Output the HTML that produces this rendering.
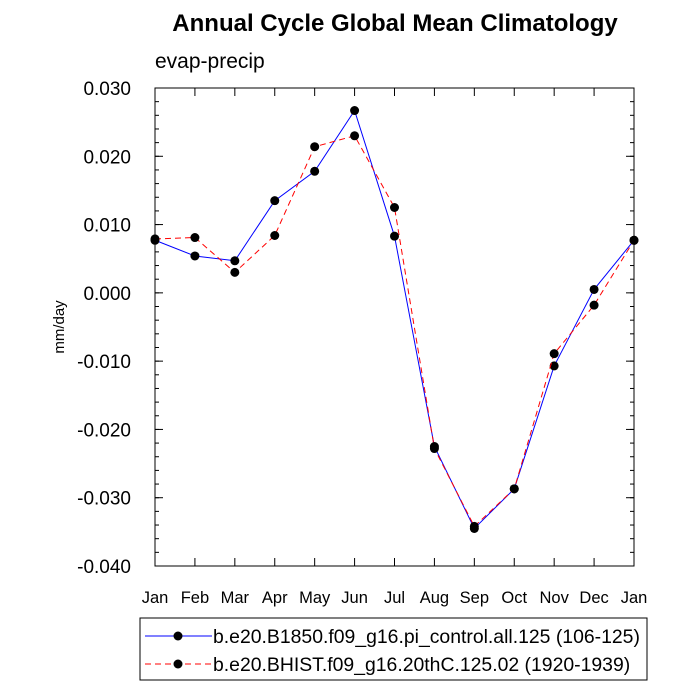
<!DOCTYPE html>
<html><head><meta charset="utf-8"><style>
html,body{margin:0;padding:0;background:#fff;}
svg{display:block;font-family:"Liberation Sans",Arial,sans-serif;}
</style></head><body>
<svg id="chart" width="700" height="700">
<text x="395" y="31" text-anchor="middle" font-size="24" font-weight="bold">Annual Cycle Global Mean Climatology</text>
<text x="155" y="68" font-size="21">evap-precip</text>
<text transform="translate(64,327) rotate(-90)" text-anchor="middle" font-size="15">mm/day</text>
<g id="axes"></g>
<g id="series"></g>
<rect x="140" y="618" width="507" height="62" fill="none" stroke="#000" stroke-width="1"/>
<g>
<line x1="145" y1="636" x2="212" y2="636" stroke="#0000ff" stroke-width="1"/>
<circle cx="178" cy="636" r="4.5" fill="#000"/>
<text x="213" y="643" font-size="19.4">b.e20.B1850.f09_g16.pi_control.all.125 (106-125)</text>
</g>
<g>
<line x1="145" y1="664" x2="212" y2="664" stroke="#ff0000" stroke-width="1" stroke-dasharray="6,4"/>
<circle cx="178" cy="664" r="4.5" fill="#000"/>
<text x="213" y="671" font-size="19.4">b.e20.BHIST.f09_g16.20thC.125.02 (1920-1939)</text>
</g>
</svg>
<script>
const months = ["Jan","Feb","Mar","Apr","May","Jun","Jul","Aug","Sep","Oct","Nov","Dec","Jan"];
const controlValues = [0.0077,0.0054,0.0047,0.0135,0.0178,0.0267,0.0083,-0.0225,-0.0345,-0.0287,-0.0107,0.0005,0.0077];
const histValues = [0.0079,0.0081,0.0030,0.0084,0.0214,0.0230,0.0125,-0.0228,-0.0342,-0.0287,-0.0089,-0.0018,0.0077];
const yTicks = [0.030,0.020,0.010,0.000,-0.010,-0.020,-0.030,-0.040];
const yTickLabels = ["0.030","0.020","0.010","0.000","-0.010","-0.020","-0.030","-0.040"];

const NS="http://www.w3.org/2000/svg";
const L=155,R=634,T=88,B=566,ymin=-0.04,ymax=0.03;
const xS=i=>L+(R-L)*i/(months.length-1);
const yS=v=>B-(v-ymin)/(ymax-ymin)*(B-T);
function mk(tag,attrs,parent){const e=document.createElementNS(NS,tag);for(const k in attrs)e.setAttribute(k,attrs[k]);parent.appendChild(e);return e;}
const axes=document.getElementById('axes'),ser=document.getElementById('series');
const frame=mk('rect',{x:L,y:T,width:R-L,height:B-T,fill:'none',stroke:'#000','stroke-width':1},axes);


yTicks.forEach((v,i)=>{
  const y=yS(v);
  mk('line',{x1:L,y1:y,x2:L+8,y2:y,stroke:'#000'},axes);
  mk('line',{x1:R,y1:y,x2:R-8,y2:y,stroke:'#000'},axes);
  const t=mk('text',{x:131,y:y+7,'text-anchor':'end','font-size':19},axes);
  t.textContent=yTickLabels[i];
  
  
});
for(let v=ymin;v<=ymax+1e-9;v+=0.002){
  const y=yS(v);
  mk('line',{x1:L,y1:y,x2:L+4,y2:y,stroke:'#000'},axes);
  mk('line',{x1:R,y1:y,x2:R-4,y2:y,stroke:'#000'},axes);
}
months.forEach((m,i)=>{
  const x=xS(i);
  mk('line',{x1:x,y1:B,x2:x,y2:B-8,stroke:'#000'},axes);
  mk('line',{x1:x,y1:T,x2:x,y2:T+8,stroke:'#000'},axes);
  const t=mk('text',{x:x,y:B+37,'text-anchor':'middle','font-size':16.5},axes);
  t.textContent=m;
  
  
});
function drawSeries(vals,color,dash,name){
  const pts=vals.map((v,i)=>xS(i)+','+yS(v)).join(' ');
  const pl=mk('polyline',{points:pts,fill:'none',stroke:color,'stroke-width':1,'stroke-dasharray':dash},ser);
  
  
  vals.forEach((v,i)=>{
    const c=mk('circle',{cx:xS(i),cy:yS(v),r:4.5,fill:'#000'},ser);
    
    
  });
}
drawSeries(controlValues,'#0000ff','none','control');
drawSeries(histValues,'#ff0000','6,4','hist');
</script>
</body></html>
